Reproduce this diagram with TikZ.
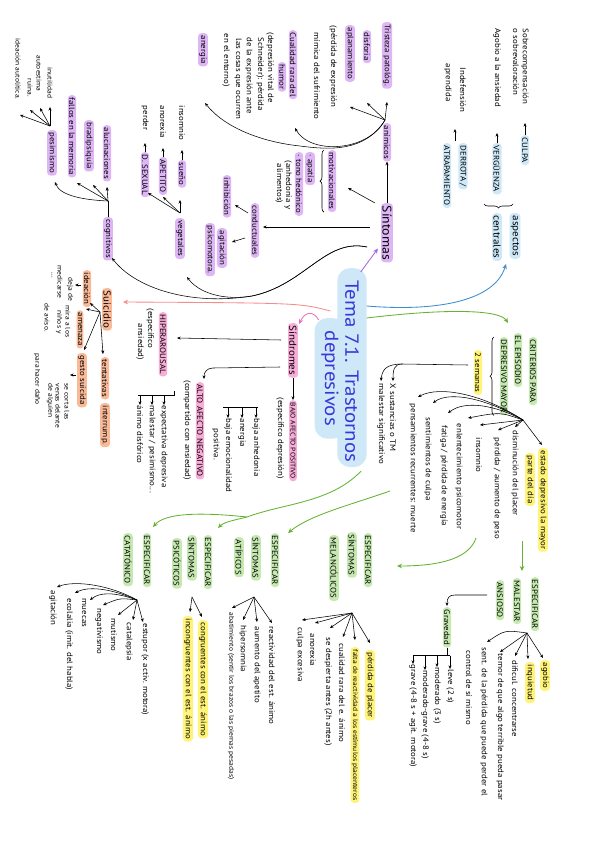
\documentclass[tikz,border=0pt]{standalone}
\usepackage{fontspec}
\setmainfont{PT Sans}[FakeStretch=1.1]
\usetikzlibrary{arrows.meta,calc,decorations.pathreplacing,backgrounds}
\definecolor{cpur}{RGB}{222,182,246}
\definecolor{cpink}{RGB}{248,172,216}
\definecolor{cor}{RGB}{250,186,152}
\definecolor{cgr}{RGB}{198,233,178}
\definecolor{cye}{RGB}{255,244,120}
\definecolor{cbl}{RGB}{206,232,248}
\definecolor{ctema}{RGB}{55,55,215}
\definecolor{lgreen}{RGB}{100,180,50}
\definecolor{lblue}{RGB}{60,140,210}
\definecolor{lsalmon}{RGB}{245,140,140}
\definecolor{lpink}{RGB}{240,110,190}
\definecolor{lpurp}{RGB}{170,100,230}
\newcommand\myN{\fontsize{8}{9}\selectfont}
\newcommand\myX{\fontsize{6.8}{8}\selectfont}
\newcommand\myM{\fontsize{10}{11}\selectfont}
\newcommand\myL{\fontsize{12.5}{13}\selectfont}
\newcommand\myT{\fontsize{19}{20}\selectfont}
\begin{document}
\begin{tikzpicture}[x=1pt,y=-1pt,
  tx/.style={rotate=-90,anchor=west,inner sep=0.6pt,font=\myN,text=black},
  hl/.style={tx,rounded corners=3.5pt,inner xsep=2.5pt,inner ysep=1.3pt},
  pu/.style={hl,fill=cpur}, pk/.style={hl,fill=cpink}, orn/.style={hl,fill=cor},
  gr/.style={hl,fill=cgr}, ye/.style={hl,fill=cye}, bl/.style={hl,fill=cbl},
  arr/.style={-{Stealth[length=3.6pt,width=3pt]},line width=0.55pt},
  carr/.style={-{Stealth[length=5pt,width=4.5pt]},line width=0.85pt},
  garr/.style={carr,draw=lgreen},
  brc/.style={decorate,decoration={brace,amplitude=4pt},line width=0.6pt}
]
\useasboundingbox (0,0) rectangle (600,848);

% ---------- top right ----------
\node[tx] (sobre) at (525,28) {Sobrecompensación};
\node[bl] (culpa) at (525,135) {CULPA};
\node[tx] (osobre) at (516,28) {o sobrevaloración};
\node[tx] (agobio) at (497,28) {Agobio a la ansiedad};
\node[bl] (verg) at (497,143) {VERGÜENZA};
\node[tx] (indef) at (463,67) {Indefensión};
\node[tx] (aprend) at (448,63) {aprendida};
\node[bl] (derrota) at (463,143) {DERROTA /};
\node[bl] (atrap) at (447,143) {ATRAPAMIENTO};
\node[bl,font=\myM] (aspectos) at (515,213) {aspectos};
\node[bl,font=\myM] (centrales) at (497,213) {centrales};
\draw[arr] (culpa.west) -- ++(0,-12);
\draw[arr] (verg.west) -- ++(0,-10);
\draw[arr] ($(derrota.west)!0.5!(atrap.west)+(0,-2)$) -- ++(0,-12);
\draw[brc] ($(aspectos.west)+(-2,-9)$) -- ($(centrales.west)+(-13,-9)$);

% ---------- Tema ----------
\node[tx,font=\myT,text=ctema] (tema1) at (352,280) {Tema 7.1. Trastornos};
\node[tx,font=\myT,text=ctema] (tema2) at (330,330) {depresivos};
\begin{scope}[on background layer]
\fill[white] (0,0) rectangle (600,848);
\fill[cbl,rounded corners=13pt] ($(tema1.north west)+(7,-12)$) rectangle ($(tema1.south east)+(-7,4)$);
\fill[cbl,rounded corners=13pt] ($(tema2.north west)+(6,-12)$) rectangle ($(tema2.south east)+(-6,12)$);
\end{scope}
\draw[carr,draw=lblue] ($(tema1.north west)+(7,26)$) .. controls (440,312) and (495,300) .. ($(aspectos.east)!0.5!(centrales.east)+(0,4)$);

% ---------- Sintomas ----------
\node[pu,font=\myL] (sintomas) at (387,203) {Síntomas};
\draw[carr,draw=lpurp] ($(tema1.north west)+(1,-8)$) -- ($(sintomas.south east)+(-3,-14)$);
\node[pu] (animicos) at (387,123) {anímicos};
\draw[arr] (sintomas.west) -- (animicos.east);
\node[pu] (tristeza) at (387,22) {Tristeza patológ.};
\node[pu] (disforia) at (367,30) {disforia};
\node[pu] (aplan) at (350,25) {aplanamiento};
\node[tx] (perd1) at (333,25) {(pérdida de expresión};
\node[tx] (perd2) at (317,32) {mímica del sufrimiento};
\node[pu] (cuali) at (293,30) {Cualidad rara del};
\node[pu] (humor) at (282,62) {humor};
\node[tx] (dep1) at (270,32) {(depresión vital de};
\node[tx] (dep2) at (260,37) {Schneider): pérdida};
\node[tx] (dep3) at (249,37) {de la expresión ante};
\node[tx] (dep4) at (238,38) {las cosas que ocurren};
\node[tx] (dep5) at (226,33) {en el entorno)};
\node[pu] (anergia) at (203,33) {anergia};
\coordinate (fa) at ($(animicos.west)+(-2,-3)$);
\draw[arr] (fa) -- ($(tristeza.west)+(0,80)$);
\draw[arr] (fa) -- ($(disforia.west)+(0,73)$);
\draw[arr] (fa) -- ($(aplan.west)+(0,82)$);
\draw[arr] (fa) .. controls (368,152) and (310,155) .. ($(cuali.west)+(2,98)$);
\draw[arr] (fa) .. controls (365,152) and (330,150) .. (300,146) .. controls (262,142) and (225,128) .. ($(anergia.west)+(2,70)$);

\node[pu] (motiv) at (332,150) {motivacionales};
\draw[arr] ($(sintomas.west)+(-12,0)$) -- ($(motiv.west)+(16,38)$);
\draw[brc] ($(motiv.east)+(-8,0)$) -- ($(motiv.west)+(-8,0)$);
\node[pu] (apatia) at (310,152) {· apatía};
\node[pu] (tono) at (299,152) {· tono hedónico};
\node[tx] (anh1) at (288,160) {(anhedonia y};
\node[tx] (anh2) at (279,163) {alimentos)};

\node[pu] (conduct) at (255,203) {conductuales};
\draw[arr] ($(sintomas.west)+(-17,24)$) -- ($(conduct.west)+(8,24)$);
\node[pu] (inhib) at (227,175) {inhibición};
\node[pu] (agit) at (222,228) {agitación};
\node[pu] (psicom) at (210,223) {psicomotora.};
\draw[arr] ($(conduct.west)+(-7,10)$) -- ($(inhib.west)+(8,30)$);
\draw[arr] ($(conduct.west)+(-10,35)$) -- ($(agit.west)+(10,14)$);

\node[pu] (veget) at (180,218) {vegetales};
\node[pu] (cognit) at (108,217) {cognitivos};
\coordinate (sv) at ($(sintomas.west)+(-20,44)$);
\draw[arr] (sv) .. controls (325,238) and (305,285) .. (252,296) .. controls (222,301) and (198,292) .. ($(veget.west)+(7,59)$);
\draw[arr] (sv) .. controls (325,238) and (305,285) .. (252,296) .. controls (190,306) and (135,288) .. ($(cognit.west)+(4,41)$);

\node[pu] (sueno) at (182,160) {sueño};
\node[tx] (insom) at (182,105) {insomnio};
\node[pu] (apetito) at (163,157) {APETITO};
\node[tx] (anorex) at (163,105) {anorexia};
\node[pu] (sexual) at (145,152) {D. SEXUAL};
\node[tx] (perder) at (145,105) {perder};
\coordinate (fv) at ($(veget.west)+(0,-5)$);
\draw[arr] (fv) -- ($(sueno.west)+(-2,40)$);
\draw[arr] (fv) -- ($(apetito.west)+(0,40)$);
\draw[arr] (fv) -- ($(sexual.west)+(3,41)$);
\draw[arr] (sueno.west) -- ++(0,-10);
\draw[arr] (apetito.west) -- ++(0,-9);
\draw[arr] (sexual.west) -- ++(0,-9);

\node[pu] (aluc) at (107,125) {alucinaciones};
\node[pu] (bradi) at (89,120) {bradipsiquia};
\node[pu] (fallos) at (72,95) {fallos en la memoria};
\node[pu] (pesim) at (52,130) {pesimismo};
\coordinate (fc) at ($(cognit.west)+(0,-16)$);
\draw (cognit.west) -- (fc);
\draw[arr] (fc) -- ($(aluc.west)+(0,62)$);
\draw[arr] (fc) -- ($(bradi.west)+(4,65)$);
\draw[arr] (fc) -- ($(fallos.west)+(5,88)$);
\draw[arr] (fc) .. controls (85,200) and (60,196) .. ($(pesim.west)+(3,52)$);

\node[tx,font=\myX] (inut) at (50,67) {inutilidad};
\node[tx,font=\myX] (autoe) at (39,55) {autoestima};
\node[tx,font=\myX] (ruina) at (30,78) {ruina.};
\node[tx,font=\myX] (ideac1) at (18,38) {ideación autolítica.};
\coordinate (fp) at ($(pesim.west)+(-2,-4)$);
\draw[arr] (fp) -- ($(inut.west)+(0,40)$);
\draw[arr] (fp) -- ($(autoe.west)+(1,53)$);
\draw[arr] (fp) -- ($(ruina.west)+(0,32)$);
\draw[arr] (fp) -- ($(ideac1.west)+(2,77)$);

% ---------- Suicidio ----------
\node[orn,font=\myM] (suic) at (107,288) {Suicidio};
\draw[carr,draw=lsalmon] ($(tema2.north west)+(-9,-19)$) .. controls (300,303) .. ($(suic.west)+(16,14)$);
\node[orn] (ideac) at (87,270) {ideación};
\node[orn] (amen) at (80,310) {amenaza};
\node[orn] (gesto) at (82,353) {gesto suicida};
\node[orn] (tent) at (105,357) {tentativas};
\node[orn] (interr) at (105,403) {interrump.};
\coordinate (fs) at ($(suic.west)+(-7,24)$);
\draw[arr] (fs) -- ($(ideac.west)+(3,33)$);
\draw[arr] (fs) -- ($(amen.west)+(6,-1)$);
\draw[arr] (fs) -- ($(gesto.west)+(2,-3)$);
\draw[arr] (fs) -- ($(tent.west)+(-2,-3)$);
\node[tx,font=\myX] (deja) at (70,277) {deja de};
\node[tx,font=\myX] (medic) at (60,265) {medicarse};
\node[tx,font=\myX] (dots) at (52,272) {...};
\draw[arr] ($(ideac.west)+(-6,15)$) -- ++(-6,0);
\node[tx,font=\myX] (mira) at (68,305) {mira a los};
\node[tx,font=\myX] (ninos) at (59,310) {niños y};
\node[tx,font=\myX] (aviso) at (47,303) {de aviso.};
\node[tx,font=\myX] (corta) at (67,383) {se corta las};
\node[tx,font=\myX] (venas) at (58,383) {venas delante};
\node[tx,font=\myX] (alguien) at (50,383) {de alguien};
\node[tx,font=\myX] (dano) at (37,353) {para hacer daño};
\draw[arr] ($(gesto.west)+(-6,22)$) -- ++(-6,0);

% ---------- Sindromes ----------
\node[pk,font=\myM] (sindr) at (293,323) {Síndromes};
\draw[carr,draw=lpink] ($(tema2.south west)+(-2,-10)$) .. controls (314,311) and (305,311) .. ($(sindr.north west)+(1,1)$);
\node[pk,font=\myX] (bajo) at (293,400) {BAJO AFECTO POSITIVO};
\draw[arr] (sindr.east) -- (bajo.west);
\node[tx] (espdep) at (280,397) {(específico depresión)};
\coordinate (bk1) at ($(espdep.west)+(-22,10)$);
\coordinate (bk2) at ($(espdep.west)+(-57,10)$);
\draw[line width=0.55pt] (bk1) -- (bk2);
\node[tx] (baja1) at (256,418) {baja anhedonia};
\node[tx] (anerg2) at (242,418) {anergia};
\node[tx] (bajaem) at (228,418) {baja emocionalidad};
\node[tx] (posit) at (216,428) {positiva.};
\draw[arr] (bk1 -| baja1.west) -- (baja1.west);
\draw[arr] (bk1 -| anerg2.west) -- (anerg2.west);
\draw[arr] (bk1 -| bajaem.west) -- (bajaem.west);

\node[pk] (hiper) at (163,312) {HIPERAROUSAL};
\node[tx] (espan1) at (150,308) {(específico};
\node[tx] (espan2) at (140,323) {ansiedad)};
\draw[arr] ($(sindr.west)+(-12,17)$) -- ($(hiper.west)+(14,26)$);

\node[pk] (alto) at (200,382) {ALTO AFECTO NEGATIVO};
\node[tx] (compart) at (187,380) {(compartido con ansiedad)};
\draw[arr] ($(sindr.west)+(-13,44)$) -- (213,368) .. controls (207,368) and (204,372) .. ($(alto.west)+(4,-3)$);
\coordinate (bk3) at ($(compart.west)+(-13,15)$);
\coordinate (bk4) at ($(compart.west)+(-49,15)$);
\draw[line width=0.55pt] ($(bk3)+(0,-4)$) -- (bk3) -- (bk4);
\node[tx] (expec) at (164,405) {expectativa depresiva};
\node[tx] (males) at (152,405) {malestar / pesimismo...};
\node[tx] (disfo) at (140,405) {ánimo disfórico};
\draw[arr] (bk3 -| expec.west) -- (expec.west);
\draw[arr] (bk3 -| males.west) -- (males.west);
\draw[arr] (bk3 -| disfo.west) -- (disfo.west);

% ---------- Criterios ----------
\node[gr] (crit1) at (533,337) {CRITERIOS PARA};
\node[gr] (crit2) at (518,333) {EL EPISODIO};
\node[gr] (crit3) at (504,337) {DEPRESIVO MAYOR};
\draw[garr] ($(tema1.north west)+(7,38)$) .. controls (450,308) and (500,310) .. ($(crit3.west)+(4,-14)$);
\draw[brc] ($(crit3.east)+(-10,0)$) -- ($(crit3.west)+(-10,0)$);
\node[ye] (sem2) at (478,350) {2 semanas};
\node[tx] (xsust) at (393,383) {X sustancias o TM};
\node[tx] (males2) at (381,383) {malestar significativo};
\coordinate (j1) at (402,364);
\draw[line width=0.55pt] ($(sem2.west)+(-10,15)$) -- (j1);
\draw[arr] (j1) .. controls (394,364) and (393,370) .. ($(xsust.west)+(0,-2)$);
\draw[arr] (j1) .. controls (386,364) and (382,370) .. ($(males2.west)+(0,-2)$);

\node[ye] (est1) at (543,448) {estado depresivo la mayor};
\node[ye] (est2) at (530,453) {parte del día};
\node[tx] (dismi) at (515,430) {disminución del placer};
\node[tx] (perdp) at (497,437) {pérdida / aumento de peso};
\node[tx] (insom2) at (479,437) {insomnio};
\node[tx] (enlen) at (459,423) {enlentecimiento psicomotor};
\node[tx] (fatiga) at (444,425) {fatiga / pérdida de energía};
\node[tx] (sentim) at (428,417) {sentimientos de culpa};
\node[tx] (pensam) at (413,403) {pensamientos recurrentes: muerte};
\coordinate (cf) at ($(crit3.west)+(19,83)$);
\draw[arr] (cf) -- ($(est1.west)+(-1,-3)$);
\draw[arr] (cf) -- ($(dismi.west)+(0,-3)$);
\draw[arr] (cf) -- ($(perdp.west)+(1,-7)$);
\draw[arr] (cf) -- ($(insom2.west)+(1,-12)$);
\draw[arr] (cf) .. controls (500,412) .. ($(enlen.west)+(9,-5)$);
\draw[arr] (cf) .. controls (495,405) and (465,400) .. ($(fatiga.west)+(4,-12)$);
\draw[arr] (cf) .. controls (490,400) and (450,390) .. ($(sentim.west)+(5,-14)$);
\draw[arr] (cf) .. controls (485,395) and (440,385) .. ($(pensam.west)+(5,-6)$);

% ---------- Malestar ansioso ----------
\node[gr] (esp1) at (535,577) {ESPECIFICAR};
\node[gr] (malest) at (517,578) {MALESTAR};
\node[gr] (ansio) at (500,580) {ANSIOSO};
\coordinate (g2s) at ($(esp1.west)+(-13,-36)$);
\draw[garr] (g2s) -- ($(esp1.west)+(-13,-6)$);
\node[ye] (agob) at (545,660) {agobio};
\node[ye] (inq) at (530,662) {inquietud};
\node[tx] (dific) at (515,660) {dificul. concentrarse};
\node[tx] (temor) at (500,653) {temor de que algo terrible pueda pasar};
\node[tx] (sentp) at (484,647) {sent. de la pérdida que puede perder el};
\node[tx] (contr) at (469,650) {control de sí mismo};
\coordinate (fm) at ($(esp1.west)+(-8,56)$);
\draw[arr] (fm) -- ($(agob.west)+(-2,-2)$);
\draw[arr] (fm) -- ($(inq.west)+(-2,-3)$);
\draw[arr] (fm) -- ($(dific.west)+(0,-4)$);
\draw[arr] (fm) -- ($(temor.west)+(0,-1)$);
\draw[arr] (fm) .. controls (505,630) .. ($(sentp.west)+(3,-5)$);

\node[gr] (grav) at (447,607) {Gravedad};
\draw[arr] ($(ansio.west)+(-13,15)$) -- (455,595) .. controls (449,595) and (447,598) .. ($(grav.west)+(0,-1)$);
\coordinate (gb) at ($(grav.east)+(0,8)$);
\draw[line width=0.55pt] (grav.east) -- (gb);
\draw[line width=0.55pt] ($(gb)+(3,0)$) -- ($(gb)+(-34,0)$);
\node[tx] (leve) at (450,669) {leve (2 s)};
\node[tx] (moder) at (437,667) {moderado (3 s)};
\node[tx] (modg) at (425,670) {moderado-grave (4-8 s)};
\node[tx] (gravep) at (413,664) {grave (4-8 s + agit. motora)};
\draw[arr] (gb -| leve.west) -- (leve.west);
\draw[arr] (gb -| moder.west) -- (moder.west);
\draw[arr] (gb -| modg.west) -- (modg.west);
\draw[arr] (gb -| gravep.west) -- (gravep.west);

% ---------- Melancolicos ----------
\node[gr] (esp2) at (368,533) {ESPECIFICAR};
\node[gr] (sint2) at (352,532) {SÍNTOMAS};
\node[gr] (melan) at (334,535) {MELANCÓLICOS};
\coordinate (g3s) at (476,538);
\draw[garr] (g3s) .. controls (468,562) and (430,566) .. ($(esp2.west)+(29,33)$);
\node[ye] (perdpl) at (370,650) {pérdida de placer};
\node[ye,font=\myX] (falta) at (355,647) {falta de reactividad a los estímulos placenteros};
\node[tx] (cualr) at (342,643) {cualidad rara del e. ánimo};
\node[tx] (despi) at (328,637) {se despierta antes (2h antes)};
\node[tx] (anor2) at (313,633) {anorexia};
\node[tx] (culpae) at (300,627) {culpa excesiva};
\coordinate (fme) at ($(sint2.west)+(0,81)$);
\draw[arr] (fme) -- ($(perdpl.west)+(0,-7)$);
\draw[arr] (fme) -- ($(falta.west)+(0,-7)$);
\draw[arr] (fme) -- ($(cualr.west)+(1,-6)$);
\draw[arr] (fme) -- ($(despi.west)+(2,-9)$);
\draw[arr] (fme) -- ($(anor2.west)+(2,-10)$);
\draw[arr] (fme) -- ($(culpae.west)+(2,-7)$);

% ---------- Atipicos ----------
\node[gr] (esp3) at (275,533) {ESPECIFICAR};
\node[gr] (sint3) at (256,535) {SÍNTOMAS};
\node[gr] (atip) at (239,537) {ATÍPICOS};
\coordinate (g4s) at (390,491);
\draw[garr] (g4s) .. controls (350,505) and (310,515) .. ($(esp3.west)+(13,0)$);
\node[tx] (react) at (272,626) {reactividad del est. ánimo};
\node[tx] (aument) at (257,626) {aumento del apetito};
\node[tx] (hipers) at (243,625) {hipersomnia};
\node[tx,font=\myX] (abat) at (231,612) {abatimiento (sentir los brazos o las piernas pesadas)};
\coordinate (fat) at ($(sint3.west)+(-2,62)$);
\draw[arr] (fat) -- ($(react.west)+(0,-3)$);
\draw[arr] (fat) -- ($(aument.west)+(0,-4)$);
\draw[arr] (fat) -- ($(hipers.west)+(0,-5)$);
\draw[arr] (fat) -- ($(abat.west)+(1,-4)$);

% ---------- Psicoticos / Catatonico ----------
\node[gr] (esp4) at (208,535) {ESPECIFICAR};
\node[gr] (sint4) at (192,535) {SÍNTOMAS};
\node[gr] (psic) at (177,538) {PSICÓTICOS};
\node[gr] (esp5) at (147,533) {ESPECIFICAR};
\node[gr] (cata) at (128,533) {CATATÓNICO};
\coordinate (g5s) at ($(tema1.east)+(9,8)$);
\coordinate (g5j) at (247,517);
\draw[garr] (g5s) .. controls (330,503) and (285,503) .. (g5j) .. controls (235,520) and (224,522) .. ($(esp4.west)+(10,-7)$);
\draw[garr] (g5j) .. controls (200,512) and (165,513) .. ($(esp5.west)+(6,-6)$);
\node[ye] (congr) at (203,620) {congruentes con el est. ánimo};
\node[ye] (incong) at (188,616) {incongruentes con el est. ánimo};
\coordinate (fps) at ($(sint4.west)+(0,62)$);
\draw[arr] (fps) -- ($(congr.west)+(-1,-3)$);
\draw[arr] (fps) -- ($(incong.west)+(2,-4)$);

\node[tx] (estu) at (145,623) {estupor (x activ. motora)};
\node[tx] (catal) at (129,622) {catalepsia};
\node[tx] (mutis) at (114,618) {mutismo};
\node[tx] (negat) at (99,608) {negativismo};
\node[tx] (muecas) at (84,598) {muecas};
\node[tx] (ecol) at (69,598) {ecolalia (imit. del habla)};
\node[tx] (agitc) at (53,590) {agitación};
\coordinate (fca) at ($(esp5.west)+(-10,67)$);
\draw[arr] (fca) -- ($(estu.west)+(-2,-1)$);
\draw[arr] (fca) -- ($(catal.west)+(4,-2)$);
\draw[arr] (fca) -- ($(mutis.west)+(4,-3)$);
\draw[arr] (fca) .. controls (120,598) .. ($(negat.west)+(4,-3)$);
\draw[arr] (fca) .. controls (115,592) and (100,592) .. ($(muecas.west)+(6,2)$);
\draw[arr] (fca) .. controls (115,590) and (90,585) .. ($(ecol.west)+(6,-5)$);
\draw[arr] (fca) .. controls (110,585) and (75,580) .. ($(agitc.west)+(4,-3)$);
\end{tikzpicture}
\end{document}
